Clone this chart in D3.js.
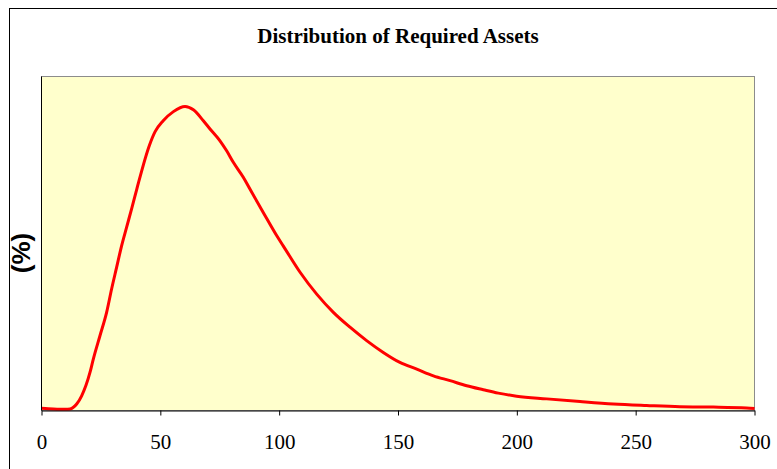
<!DOCTYPE html>
<html>
<head>
<meta charset="utf-8">
<script src="https://cdn.jsdelivr.net/npm/d3@7"></script>
<style>
  body { margin: 0; background: #fff; }
  svg { display: block; }
</style>
</head>
<body>
<script>
var width = 777, height = 469
var margin = {top: 76.5, right: 23, bottom: 58.5, left: 41.5}

// required assets (x) and percentage (y)
var assets = [0, 5, 10, 12, 14.8, 16.9, 20.4, 21.8, 24.6, 27.4, 29.5, 31.6, 33.7, 35.8, 38, 40.1,
  45.5, 47.8, 51.2, 55.5, 60.4, 63.9, 68.1, 70.9, 75.1, 77.9, 80.7, 84.9, 87.7, 93.3, 99,
  101.7, 108.8, 115.8, 122.8, 129.8, 136.8, 143.8, 150.8, 157.9, 164.9, 171.9, 178.9, 185.9,
  192.2, 199.9, 212.6, 226.6, 240.6, 254.6, 268.6, 282.7, 296.7, 300]
var pct = [0.004, 0.002, 0.001, 0.002, 0.018, 0.045, 0.122, 0.166, 0.243, 0.320, 0.397, 0.468, 0.539, 0.600, 0.663, 0.726,
  0.872, 0.915, 0.951, 0.981, 0.998, 0.987, 0.951, 0.924, 0.885, 0.852, 0.814, 0.765, 0.726, 0.649, 0.572,
  0.539, 0.452, 0.380, 0.320, 0.271, 0.227, 0.188, 0.155, 0.133, 0.111, 0.095, 0.078, 0.065,
  0.054, 0.044, 0.035, 0.026, 0.018, 0.013, 0.009, 0.008, 0.005, 0.003]
var xTicks = [0, 50, 100, 150, 200, 250, 300]

var title = "Distribution of Required Assets"
var yLabel = "(%)"

var data = assets.map(function(d, i) { return {x: d, y: pct[i]}; })

var x = d3.scaleLinear()
    .domain([0, 300])
    .range([margin.left, width - margin.right + 0.5])

var y = d3.scaleLinear()
    .domain([0, 1.1])
    .range([height - margin.bottom, margin.top])

var svg = d3.select("body").append("svg")
    .attr("width", width)
    .attr("height", height)

// outer chart frame (runs off the right and bottom)
svg.append("rect")
    .attr("x", 9.5).attr("y", 8.5)
    .attr("width", 800).attr("height", 500)
    .attr("fill", "#fff")
    .attr("stroke", "#000")

// plot area
svg.append("rect")
    .attr("x", x(0)).attr("y", y(1.1))
    .attr("width", x(300) - x(0))
    .attr("height", y(0) - y(1.1))
    .attr("fill", "#FFFFCC")
    .attr("stroke", "#8c8c8c")

svg.append("text")
    .attr("x", (x(0) + x(300)) / 2)
    .attr("y", 43)
    .attr("text-anchor", "middle")
    .style("font-family", "'Liberation Serif', 'Times New Roman', serif")
    .style("font-weight", "bold")
    .style("font-size", "21px")
    .text(title)

svg.append("text")
    .attr("transform", "translate(29.5,253) rotate(-90)")
    .attr("text-anchor", "middle")
    .style("font-family", "'Liberation Sans', Arial, sans-serif")
    .style("font-weight", "bold")
    .style("font-size", "26px")
    .text(yLabel)

var line = d3.line()
    .x(function(d) { return x(d.x); })
    .y(function(d) { return y(d.y) - 1; })
    .curve(d3.curveMonotoneX)

svg.append("path")
    .datum(data)
    .attr("fill", "none")
    .attr("stroke", "#FF0000")
    .attr("stroke-width", 3)
    .attr("stroke-linejoin", "round")
    .attr("d", line)

// axes
var xAxis = svg.append("g")
    .attr("transform", "translate(0," + y(0) + ")")
    .call(d3.axisBottom(x).tickValues(xTicks).tickSize(5).tickSizeOuter(0))

xAxis.select(".domain").attr("stroke", "#000")
xAxis.selectAll(".tick line").attr("stroke", "#000")
xAxis.selectAll(".tick text")
    .attr("y", 38).attr("dy", 0)
    .attr("fill", "#000")
    .style("font-family", "'Liberation Serif', 'Times New Roman', serif")
    .style("font-size", "21px")

svg.append("line")
    .attr("x1", x(0)).attr("x2", x(0))
    .attr("y1", y(1.1)).attr("y2", y(0))
    .attr("stroke", "#000")
</script>
</body>
</html>
